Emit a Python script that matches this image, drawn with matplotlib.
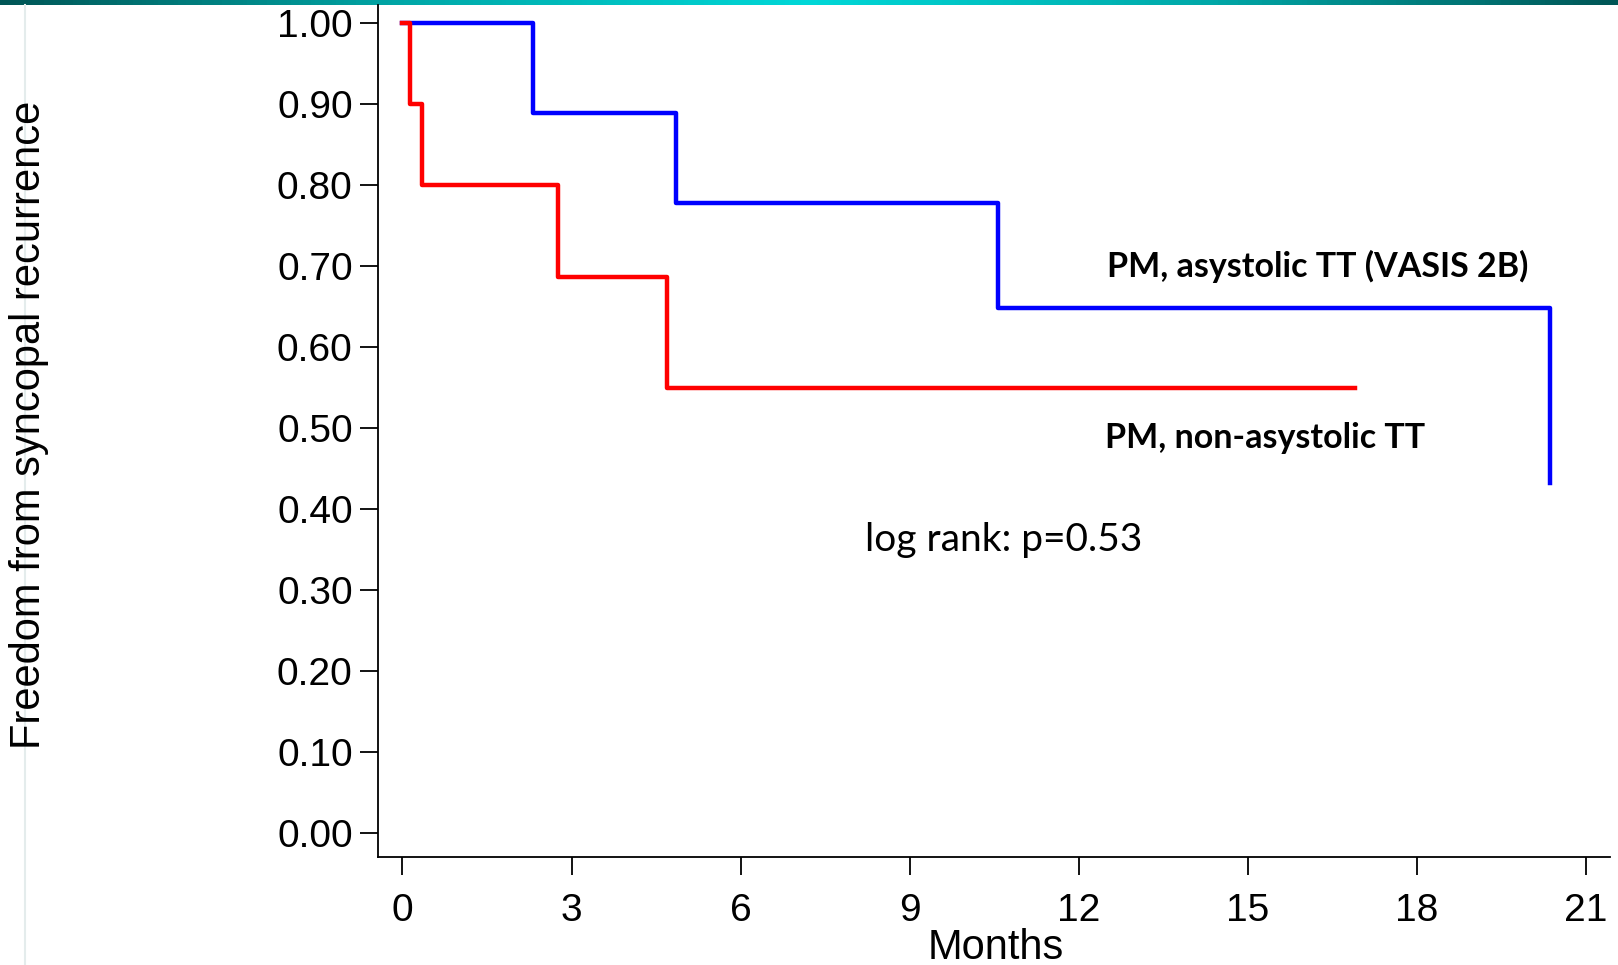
import numpy as np
import matplotlib.pyplot as plt
from matplotlib.colors import LinearSegmentedColormap
from matplotlib.lines import Line2D

plt.rcParams['font.family'] = ['Liberation Sans', 'DejaVu Sans']

# Kaplan-Meier estimates
asys_months = [0, 2.31, 4.85, 10.57, 20.37]
asys_surv = [1.0, 0.889, 0.778, 0.648, 0.432]
nonasys_months = [0, 0.13, 0.35, 2.76, 4.69, 16.9]
nonasys_surv = [1.0, 0.9, 0.8, 0.686, 0.549, 0.549]

xticks = [0, 3, 6, 9, 12, 15, 18, 21]
yticks = [0.0, 0.1, 0.2, 0.3, 0.4, 0.5, 0.6, 0.7, 0.8, 0.9, 1.0]

W, H = 1618, 965
fig = plt.figure(figsize=(W / 100, H / 100), dpi=100)

# slide decoration: teal bar on top and faint guide line at left
bar = fig.add_axes([0, 1 - 5 / H, 1, 5 / H])
cmap = LinearSegmentedColormap.from_list('teal', ['#005656', '#00a8a8', '#00d8d8', '#00a8a8', '#005656'])
bar.imshow(np.linspace(0, 1, 400)[None, :], aspect='auto', cmap=cmap, extent=[0, 1, 0, 1])
bar.axis('off')
fig.add_artist(Line2D([25 / W, 25 / W], [0, 1 - 5 / H], color='#e4ecec', lw=1.5))

ax = fig.add_axes([377.7 / W, 1 - 856.5 / H, (1610 - 377.7) / W, (856.5 - 5) / H])
ax.step(asys_months, asys_surv, where='post', color='#0000ff', lw=3.2)
ax.step(nonasys_months, nonasys_surv, where='post', color='#ff0000', lw=3.2)

ax.set_xlim(-0.44, 21.43)
ax.set_ylim(-0.0293, 1.022)
ax.set_xticks(xticks)
ax.set_yticks(yticks)
ax.set_yticklabels([f'{v:.2f}' for v in yticks])
ax.tick_params(axis='both', labelsize=28, width=1.3, length=13, direction='out')
ax.tick_params(axis='y', pad=5)
ax.tick_params(axis='x', pad=13)
for s in ['top', 'right']:
    ax.spines[s].set_visible(False)
for s in ['left', 'bottom']:
    ax.spines[s].set_linewidth(1.3)

fig.text(996 / W, 1 - 948 / H, 'Months', fontsize=30, ha='center', va='center')
fig.text(29 / W, 1 - 425 / H, 'Freedom from syncopal recurrence', fontsize=30,
         rotation=90, ha='center', va='center')

fig.text(1107 / W, 1 - 266 / H, 'PM, asystolic TT (VASIS 2B)', fontsize=24.5,
         fontweight='bold', family='Lato', va='center', ha='left')
fig.text(1105 / W, 1 - 437.5 / H, 'PM, non-asystolic TT', fontsize=24.5,
         fontweight='bold', family='Lato', va='center', ha='left')
fig.text(865 / W, 1 - 540 / H, 'log rank: p=0.53', fontsize=28,
         family='Lato', va='center', ha='left')

fig.savefig('out.png', dpi=100)
